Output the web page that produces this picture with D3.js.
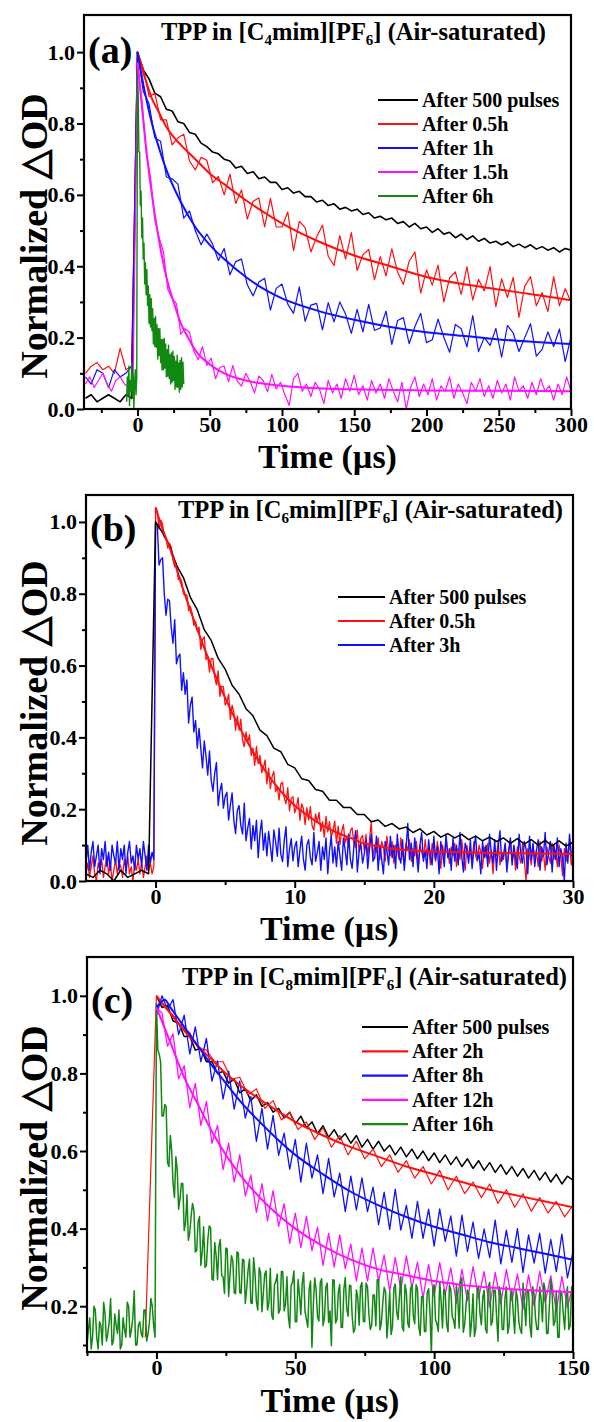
<!DOCTYPE html>
<html><head><meta charset="utf-8">
<script src="https://cdn.jsdelivr.net/npm/d3@7"></script>
<style>
body{margin:0;background:#fff}
svg text{font-family:"Liberation Serif","Times New Roman",serif;font-weight:bold;fill:#000}
</style>
</head><body>
<svg id="chart" width="594" height="1422"></svg>
<script>
// ---------------- DATA ----------------
// Panel (a): TPP in [C4mim][PF6]
const aLegend = ["After 500 pulses","After 0.5h","After 1h","After 1.5h","After 6h"];
const aXTicks = [0,50,100,150,200,250,300];
const aXMinor = [-25,25,75,125,175,225,275];
const aYTicks = [0,0.2,0.4,0.6,0.8,1.0];
const aYMinor = [0.1,0.3,0.5,0.7,0.9];

const aBlackT0 = -36, aBlackDt = 4;
const aBlackV = [0.03,0.04,0.02,0.03,0.04,0.03,0.02,0.04,0.03,
1.00,0.95,0.925,0.885,0.875,0.84,0.835,0.805,0.80,0.775,
0.77,0.745,0.735,0.72,0.715,0.70,0.695,0.675,0.68,0.66,
0.665,0.645,0.65,0.635,0.635,0.615,0.62,0.605,0.61,0.595,
0.595,0.58,0.585,0.57,0.575,0.56,0.565,0.555,0.56,0.545,
0.55,0.535,0.54,0.53,0.535,0.52,0.525,0.51,0.52,0.505,
0.51,0.495,0.505,0.49,0.495,0.48,0.49,0.475,0.485,0.47,
0.478,0.465,0.47,0.46,0.468,0.455,0.462,0.452,0.46,0.448,
0.455,0.445,0.452,0.44,0.45,0.445];

const aRedT0 = -36, aRedDt = 4;
const aRedV = [0.10,0.12,0.13,0.11,0.12,0.10,0.17,0.11,0.12,
1.00,0.955,0.875,0.885,0.81,0.81,0.74,0.76,0.77,0.695,
0.67,0.705,0.697,0.634,0.652,0.60,0.658,0.576,0.614,0.532,
0.582,0.591,0.51,0.59,0.51,0.51,0.552,0.444,0.526,0.508,
0.44,0.482,0.515,0.428,0.402,0.486,0.42,0.494,0.388,0.432,
0.447,0.362,0.427,0.373,0.449,0.384,0.349,0.414,0.44,0.325,
0.39,0.347,0.403,0.30,0.367,0.384,0.321,0.398,0.305,0.363,
0.331,0.399,0.287,0.365,0.312,0.369,0.257,0.344,0.371,0.289,
0.326,0.273,0.371,0.289,0.337,0.30];
const aRedFitT = [0,5,10,15,20,30,40,50,60,75,90,100,125,150,175,200,225,250,275,300];
const aRedFitV = [1.0,0.93,0.87,0.83,0.79,0.74,0.70,0.66,0.63,0.585,0.545,0.52,0.47,0.43,0.40,0.37,0.35,0.335,0.32,0.305];

const aBlueT0 = -36, aBlueDt = 4;
const aBlueV = [0.09,0.07,0.11,0.10,0.06,0.11,0.09,0.10,0.12,
1.00,0.89,0.855,0.76,0.75,0.65,0.645,0.63,0.535,0.555,
0.50,0.46,0.49,0.462,0.416,0.45,0.376,0.413,0.42,0.348,
0.317,0.356,0.366,0.277,0.338,0.35,0.294,0.268,0.342,0.246,
0.291,0.296,0.222,0.298,0.244,0.30,0.266,0.212,0.279,0.216,
0.293,0.22,0.227,0.274,0.181,0.248,0.256,0.183,0.231,0.268,
0.186,0.194,0.252,0.201,0.159,0.237,0.225,0.174,0.262,0.161,
0.20,0.178,0.226,0.145,0.234,0.213,0.161,0.20,0.239,0.148,
0.167,0.216,0.175,0.224,0.133,0.202];
const aBlueFitT = [0,5,10,15,20,30,40,50,60,75,90,100,125,150,175,200,225,250,275,300];
const aBlueFitV = [1.0,0.89,0.80,0.73,0.67,0.58,0.51,0.46,0.42,0.37,0.33,0.31,0.275,0.25,0.23,0.215,0.205,0.195,0.188,0.182];

const aMagT0 = -36, aMagDt = 3;
const aMagV = [0.07,0.09,0.06,0.08,0.10,0.07,0.05,0.08,0.09,0.07,0.06,0.08,
0.97,0.87,0.72,0.65,0.53,0.48,0.44,0.335,0.31,0.295,0.21,0.225,0.215,0.162,0.138,0.175,0.122,0.143,0.085,0.117,
0.12,0.076,0.122,0.078,0.064,0.10,0.077,0.045,0.092,0.08,0.048,0.097,0.056,0.075,
0.04,0.01,0.085,0.10,0.05,0.07,0.035,0.075,0.055,0.015,0.08,0.045,0.07,0.03,0.085,0.05,0.095,0.04,0.065,0.025,
0.08,0.045,0.07,0.03,0.085,0.05,0.02,0.075,0.0,0.06,0.09,0.035,0.07,0.04,0.085,0.025,0.065,0.05,0.09,0.03,
0.07,0.045,0.015,0.075,0.05,0.085,0.035,0.065,0.03,0.08,0.045,0.07,0.025,0.09,0.05,0.065,0.03,0.075,0.04,0.085,
0.05,0.065,0.025,0.07,0.04,0.09,0.05];
const aMagFitT = [0,3,6,10,15,20,25,30,35,40,50,60,75,100,125,150,200,250,300];
const aMagFitV = [0.97,0.85,0.73,0.60,0.47,0.37,0.30,0.24,0.20,0.165,0.125,0.10,0.08,0.065,0.058,0.055,0.052,0.051,0.05];

const aGreenT0 = -7.5, aGreenDt = 0.5;
const aGreenV = [0.02,0.09,0.04,0.12,0.01,0.08,0.05,0.13,0.03,0.10,0.0,0.07,0.11,0.04,0.09,
0.95,0.88,0.72,0.72,0.57,0.61,0.48,0.535,0.42,0.465,0.35,0.41,0.32,0.39,0.29,0.345,0.24,0.32,0.23,0.31,
0.22,0.281,0.182,0.254,0.175,0.259,0.173,0.236,0.14,0.225,0.15,0.225,0.13,0.195,0.11,0.195,0.11,0.198,0.115,0.182,
0.09,0.166,0.092,0.179,0.085,0.152,0.07,0.157,0.075,0.162,0.08,0.147,0.055,0.134,0.062,0.151,0.06,0.129,0.047,0.136,
0.055,0.144,0.062,0.131,0.07];

// Panel (b): TPP in [C6mim][PF6]
const bLegend = ["After 500 pulses","After 0.5h","After 3h"];
const bXTicks = [0,10,20,30];
const bXMinor = [5,15,25];
const bYTicks = [0,0.2,0.4,0.6,0.8,1.0];
const bYMinor = [0.1,0.3,0.5,0.7,0.9];

const bBlackT0 = -5, bBlackDt = 0.5;
const bBlackV = [0.02,0.01,0.03,0.02,0.0,0.03,0.01,0.02,0.03,0.02,
1.0,0.97,0.935,0.88,0.845,0.79,0.755,0.70,0.67,0.62,0.59,0.545,0.52,0.48,0.46,0.42,0.405,0.37,0.36,0.325,
0.315,0.285,0.28,0.255,0.25,0.225,0.225,0.205,0.205,0.185,0.185,0.165,0.17,0.152,0.16,0.145,0.15,0.135,0.145,0.128,
0.138,0.122,0.132,0.12,0.13,0.115,0.125,0.112,0.122,0.11,0.12,0.105,0.118,0.103,0.115,0.10,0.113,0.098,0.112,0.097,0.108];

const bRedT0 = -5, bRedDt = 0.125;
const bRedV = [
0.02,0.05,0.01,0.04,0.07,0.02,0.0,0.05,0.03,0.06,
0.01,0.04,0.07,0.02,0.05,0.0,0.03,0.06,0.02,0.05,
0.04,0.01,0.06,0.03,0.07,0.02,0.04,0.0,0.05,0.03,
0.06,0.02,0.05,0.01,0.04,0.07,0.03,0.05,0.02,0.04,
1.04,1.03,0.98,1.005,0.995,0.957,0.955,0.927,0.94,0.93,0.895,0.875,0.885,0.84,0.845,0.835,0.80,0.796,0.797,0.753,0.765,0.746,0.712,0.723,0.695,
0.707,0.645,0.672,0.68,0.617,0.625,0.582,0.62,0.619,0.567,0.546,0.585,0.514,0.542,0.541,0.49,0.50,0.52,0.45,0.49,
0.47,0.42,0.46,0.42,0.451,0.392,0.374,0.415,0.386,0.407,0.349,0.37,0.322,0.375,0.327,0.35,0.302,0.315,0.337,0.27,
0.314,0.257,0.291,0.305,0.249,0.262,0.226,0.27,0.275,0.23,0.215,0.26,0.195,0.23,0.235,0.19,0.206,0.232,0.169,0.215,
0.201,0.157,0.204,0.17,0.207,0.154,0.141,0.187,0.164,0.191,0.138,0.165,0.122,0.18,0.137,0.165,0.122,0.14,0.167,0.105,
0.153,0.101,0.139,0.157,0.106,0.124,0.092,0.14,0.148,0.106,0.094,0.142,0.081,0.119,0.127,0.085,
0.13,0.07,0.115,0.165,0.065,0.10,0.08,0.12,0.06,0.11,
0.095,0.055,0.125,0.085,0.07,0.11,0.05,0.10,0.09,0.06,
0.12,0.075,0.045,0.105,0.085,0.115,0.055,0.09,0.07,0.11,
0.04,0.10,0.08,0.06,0.115,0.07,0.095,0.045,0.105,0.085,
0.055,0.11,0.075,0.035,0.10,0.065,0.12,0.08,0.05,0.095,
0.07,0.105,0.04,0.09,0.06,0.115,0.075,0.03,0.1,0.065,
0.085,0.045,0.11,0.07,0.055,0.1,0.08,0.035,0.095,0.065,
0.105,0.05,0.085,0.02,0.09,0.07,0.11,0.045,0.08,0.06,
0.1,0.04,0.075,0.115,0.055,0.085,0.03,0.095,0.07,0.05,
0.105,0.06,0.0,0.09,0.075,0.045,0.1,0.065,0.085,0.04,
0.11,0.055,0.08,0.03,0.095,0.07,0.05,0.105,0.06,0.085,
0.04,0.1,0.07,0.015,0.09,0.055,0.08,0.105,0.045,0.075];
const bRedFitT = [0,0.5,1,2,3,4,5,6,7,8,9,10,11,12,13,14,15,16,17,18,20,22,25,30];
const bRedFitV = [1.04,0.98,0.93,0.81,0.70,0.60,0.51,0.43,0.36,0.30,0.25,0.21,0.18,0.155,0.135,0.12,0.105,0.097,0.09,0.086,0.082,0.08,0.078,0.075];

const bBlueT0 = -5, bBlueDt = 0.125;
const bBlueV = [
0.05,0.10,0.03,0.08,0.11,0.04,0.07,0.10,0.02,0.09,
0.06,0.11,0.04,0.08,0.03,0.10,0.07,0.05,0.11,0.03,
0.09,0.06,0.10,0.02,0.08,0.11,0.05,0.07,0.03,0.10,
0.06,0.09,0.04,0.11,0.07,0.03,0.10,0.05,0.08,0.06,
1.0,0.99,0.88,0.895,0.90,0.80,0.74,0.785,0.78,0.706,
0.662,0.728,0.605,0.624,0.632,0.531,0.58,0.52,0.56,0.44,
0.49,0.512,0.415,0.447,0.37,0.425,0.37,0.315,0.39,0.347,
0.295,0.362,0.28,0.25,0.30,0.33,0.21,0.251,0.272,0.203,
0.235,
0.247,0.17,0.212,0.245,0.169,0.132,0.196,0.21,0.155,0.131,
0.217,0.112,0.148,0.174,0.089,0.155,0.112,0.169,0.065,0.132,
0.169,0.086,0.133,0.07,0.138,0.096,0.054,0.142,0.11,0.069,
0.147,0.075,0.054,0.113,0.151,0.04,0.089,0.118,0.056,0.095,
0.11,0.04,0.085,0.125,0.06,0.03,0.10,0.115,0.065,0.045,
0.135,0.055,0.08,0.11,0.03,0.095,0.06,0.12,0.02,0.085,
0.125,0.05,0.095,0.04,0.11,0.07,0.03,0.12,0.085,0.045,
0.13,0.06,0.035,0.095,0.14,0.025,0.08,0.105,0.05,0.075,
0.115,0.035,0.09,0.13,0.055,0.065,0.125,0.03,0.10,0.06,
0.02,0.11,0.085,0.045,0.125,0.065,0.10,0.035,0.13,0.07,
0.05,0.115,0.03,0.09,0.16,0.06,0.105,0.04,0.12,0.075,
0.025,0.10,0.135,0.055,0.085,0.035,0.115,0.07,0.045,0.125,
0.06,0.095,0.02,0.11,0.08,0.04,0.13,0.065,0.09,0.03,
0.12,0.055,0.1,0.045,0.135,0.07,0.025,0.105,0.085,0.05,
0.115,0.035,0.09,0.125,0.06,0.075,0.02,0.11,0.065,0.1,
0.04,0.13,0.08,0.05,0.115,0.03,0.095,0.14,0.055,0.07,
0.105,0.025,0.085,0.12,0.045,0.1,0.065,0.035,0.13,0.075,
0.05,0.11,0.09,0.02,0.125,0.06,0.105,0.04,0.085,0.115,
0.03,0.095,0.07,0.135,0.045,0.08,0.11,0.025,0.1,0.06,
0.12,0.04,0.09,0.065,0.0,0.105,0.05,0.13,0.075,0.06];

// Panel (c): TPP in [C8mim][PF6]
const cLegend = ["After 500 pulses","After 2h","After 8h","After 12h","After 16h"];
const cXTicks = [0,50,100,150];
const cXMinor = [-25,25,75,125];
const cYTicks = [0.2,0.4,0.6,0.8,1.0];
const cYMinor = [0.1,0.3,0.5,0.7,0.9];

const cBlackT0 = 0, cBlackDt = 2;
const cBlackV = [1.0,0.97,0.975,0.935,0.93,0.895,0.895,0.86,0.865,0.83,0.83,0.80,0.805,0.775,0.785,0.75,0.76,0.73,0.745,0.715,
0.725,0.70,0.71,0.685,0.70,0.67,0.69,0.66,0.675,0.645,0.665,0.635,0.655,0.63,0.645,0.62,0.64,0.61,0.63,0.605,
0.625,0.60,0.615,0.59,0.61,0.585,0.605,0.58,0.60,0.575,0.595,0.57,0.59,0.565,0.585,0.56,0.58,0.555,0.575,0.55,
0.57,0.545,0.565,0.54,0.56,0.535,0.555,0.53,0.55,0.525,0.545,0.52,0.54,0.515,0.535,0.525];

const cRedPreT = [-4];
const cRedPreV = [0.12];
const cRedT0 = 0, cRedDt = 3;
const cRedV = [1.0,0.97,0.95,0.92,0.905,0.865,0.86,0.83,0.83,0.785,0.79,0.745,0.76,0.71,0.73,0.68,0.70,0.655,0.675,0.63,
0.66,0.61,0.64,0.59,0.625,0.58,0.605,0.56,0.59,0.545,0.575,0.53,0.56,0.515,0.55,0.50,0.535,0.49,0.52,0.48,
0.515,0.465,0.50,0.455,0.49,0.445,0.48,0.44,0.47,0.43,0.46];
const cRedFitT = [0,5,10,15,20,25,30,40,50,60,70,80,90,100,110,120,130,140,150];
const cRedFitV = [1.0,0.955,0.91,0.87,0.835,0.80,0.77,0.72,0.675,0.64,0.61,0.585,0.56,0.54,0.52,0.50,0.485,0.47,0.455];

const cBlueT0 = 0, cBlueDt = 2;
const cBlueV = [0.95,1.0,0.965,0.99,0.90,0.95,0.85,0.92,0.83,0.89,0.78,0.832,0.734,0.806,0.708,0.78,0.685,0.74,0.625,0.71,
0.605,0.692,0.589,0.646,0.553,0.63,0.52,0.62,0.53,0.59,0.49,0.581,0.482,0.543,0.444,0.535,0.448,0.531,0.444,0.507,
0.41,0.494,0.398,0.502,0.396,0.46,0.375,0.47,0.375,0.45,0.355,0.451,0.367,0.433,0.329,0.435,0.341,0.417,0.323,0.399,
0.325,0.422,0.309,0.396,0.313,0.40,0.287,0.384,0.311,0.388,0.285,0.372,0.289,0.386,0.273,0.34];
const cBlueFitT = [0,3,5,10,15,20,25,30,40,50,60,70,80,90,100,110,120,130,140,150];
const cBlueFitV = [0.97,0.99,0.97,0.92,0.87,0.82,0.775,0.73,0.655,0.59,0.54,0.495,0.46,0.43,0.405,0.385,0.365,0.35,0.335,0.32];

const cMagT0 = 0, cMagDt = 2;
const cMagV = [0.97,0.955,0.87,0.902,0.786,0.82,0.712,0.774,0.666,0.728,0.62,0.666,0.552,0.62,0.52,0.59,0.484,0.538,0.442,0.516,
0.42,0.498,0.406,0.464,0.362,0.44,0.351,0.432,0.343,0.404,0.305,0.388,0.301,0.384,0.297,0.36,0.265,0.35,0.265,0.35,
0.265,0.332,0.239,0.326,0.243,0.33,0.247,0.314,0.221,0.308,0.225,0.313,0.231,0.299,0.207,0.295,0.214,0.302,0.221,0.289,
0.198,0.287,0.206,0.295,0.214,0.283,0.192,0.281,0.201,0.29,0.209,0.279,0.188,0.277,0.197,0.256];
const cMagFitT = [0,5,10,15,20,25,30,40,50,60,70,80,90,100,110,120,130,140,150];
const cMagFitV = [0.97,0.88,0.79,0.72,0.65,0.59,0.54,0.46,0.40,0.355,0.32,0.295,0.28,0.265,0.255,0.248,0.243,0.239,0.236];

// green (c): samples on whole microseconds and on half microseconds
const cGreenT0 = -25, cGreenDt = 1;
const cGreenV = [0.10,0.17,0.12,0.19,0.09,0.15,0.21,0.11,0.16,0.10,0.18,0.13,0.09,0.17,0.12,0.20,0.14,0.24,0.10,0.16,0.12,0.19,0.13,0.22,0.15,
0.98,
0.85,0.69,0.72,0.57,0.64,0.515,0.585,0.45,0.517,0.395,0.487,0.39,0.465,0.34,0.417,0.305,0.405,0.305,0.407,0.27,
0.364,0.268,0.372,0.276,0.35,0.225,0.33,0.235,0.34,0.235,0.321,0.207,0.293,0.209,0.325,0.212,0.299,0.186,0.283,0.19,
0.298,0.166,0.264,0.182,0.29,0.188,0.276,0.144,0.262,0.16,0.269,0.178,0.287,0.166,0.245,0.094,0.273,0.172,0.261,0.15,
0.249,0.158,0.098,0.267,0.166,0.256,0.145,0.274,0.174,0.253,0.132,0.242,0.151,0.261,0.16,0.25,0.14,0.229,0.149,0.269,
0.158,0.248,0.118,0.237,0.147,0.257,0.166,0.276,0.136,0.236,0.145,0.255,0.155,0.245,0.125,0.225,0.135,0.245,0.075,0.255,
0.155,0.264,0.144,0.234,0.134,0.244,0.163,0.253,0.143,0.273,0.153,0.242,0.122,0.232,0.142,0.252,0.152,0.241,0.131,0.261,
0.161,0.241,0.11,0.23,0.14,0.25,0.15,0.24,0.13,0.22,0.14,0.26,0.15,0.24,0.12,0.23,0.14,0.25,0.16,0.24,
0.13,0.27,0.15,0.24,0.12,0.23,0.14,0.25,0.15,0.21];
const cGreenHalfT0 = -24.5, cGreenHalfDt = 1;
const cGreenHalfV = [0.14,0.09,0.20,0.12,0.16,0.10,0.18,0.13,0.22,0.11,0.15,0.19,0.10,0.14,0.21,0.12,0.17,0.10,0.15,0.13,0.19,0.11,0.16,0.20,0.12,
0.86,0.83,0.69,0.715,0.56,0.60,0.48,0.55,0.478,0.516,0.416,0.37,0.432,0.447,0.343,0.431,0.34,0.30,0.371,0.403,
0.267,0.331,0.355,0.279,0.233,0.347,0.282,0.317,0.232,0.337,0.233,0.319,0.245,0.321,0.207,0.284,0.19,0.287,0.234,0.291,
0.209,0.177,0.255,0.283,0.191,0.289,0.207,0.175,0.253,0.291,0.16,0.229,0.258,0.187,0.146,0.265,0.204,0.243,0.162,0.271,
0.17,0.259,0.188,0.268,0.157,0.236,0.146,0.245,0.194,0.254,0.173,0.142,0.222,0.251,0.161,0.26,0.18,0.15,0.229,0.269,
0.139,0.208,0.238,0.168,0.127,0.247,0.187,0.226,0.146,0.256,0.156,0.245,0.175,0.255,0.145,0.225,0.135,0.235,0.185,0.245,
0.165,0.135,0.214,0.244,0.154,0.254,0.174,0.143,0.223,0.263,0.133,0.203,0.232,0.162,0.122,0.242,0.182,0.222,0.141,0.251,
0.151,0.241,0.171,0.25,0.14,0.22,0.13,0.23,0.18,0.24,0.16,0.13,0.21,0.24,0.15,0.25,0.17,0.14,0.22,0.26,
0.13,0.20,0.23,0.16,0.12,0.24,0.18,0.22,0.14,0.25];

const COLORS = {black:"#000000", red:"#ff1010", blue:"#1010ff", magenta:"#ff10ff", green:"#118811"};

// ---------------- DRAWING ----------------
const svg = d3.select("#chart");
const grid = (t0, dt, v) => v.map((val, i) => [t0 + i*dt, val]);
const pairs = (t, v) => t.map((tt, i) => [tt, v[i]]);

function drawPanel(cfg) {
  const x = d3.scaleLinear().domain(cfg.xDomain).range([cfg.left, cfg.right]);
  const y = d3.scaleLinear().domain(cfg.yDomain).range([cfg.bottom, cfg.top]);
  const g = svg.append("g");
  const clipId = "clip-" + cfg.id;
  svg.append("defs").append("clipPath").attr("id", clipId)
    .append("rect").attr("x", cfg.left).attr("y", cfg.top)
    .attr("width", cfg.right - cfg.left).attr("height", cfg.bottom - cfg.top);
  const plot = g.append("g").attr("clip-path", `url(#${clipId})`);
  const line = d3.line().x(d => x(d[0])).y(d => y(d[1]));
  const smooth = d3.line().curve(d3.curveMonotoneX).x(d => x(d[0])).y(d => y(d[1]));
  cfg.series.forEach(s => {
    plot.append("path").attr("d", (s.fit ? smooth : line)(s.pts))
      .attr("fill", "none").attr("stroke", s.color)
      .attr("stroke-width", s.w || 1.2).attr("stroke-linejoin", "round");
  });

  // axes: minor (unlabelled) and major ticks
  g.append("g").attr("transform", `translate(0,${cfg.bottom})`)
    .call(d3.axisBottom(x).tickValues(cfg.xMinor).tickSize(4).tickFormat(""));
  g.append("g").attr("transform", `translate(0,${cfg.bottom})`)
    .call(d3.axisBottom(x).tickValues(cfg.xTicks).tickSize(7).tickPadding(0).tickFormat(d3.format("d")));
  g.append("g").attr("transform", `translate(${cfg.left},0)`)
    .call(d3.axisLeft(y).tickValues(cfg.yMinor).tickSize(4).tickFormat(""));
  g.append("g").attr("transform", `translate(${cfg.left},0)`)
    .call(d3.axisLeft(y).tickValues(cfg.yTicks).tickSize(7).tickPadding(2).tickFormat(d3.format(".1f")));
  g.selectAll(".domain").remove();
  g.selectAll(".tick line").attr("stroke", "#000").attr("stroke-width", 2);
  g.selectAll(".tick text").attr("font-size", 22).attr("font-family", "Liberation Serif")
    .attr("font-weight", "bold").attr("fill", "#000");

  g.append("rect").attr("x", cfg.left).attr("y", cfg.top)
    .attr("width", cfg.right - cfg.left).attr("height", cfg.bottom - cfg.top)
    .attr("fill", "none").attr("stroke", "#000").attr("stroke-width", 2.2);

  // panel label
  g.append("text").attr("x", cfg.left + 4).attr("y", cfg.labelY).attr("font-size", 38).text(cfg.label);
  // title with subscripts
  const t = g.append("text").attr("x", cfg.titleX).attr("y", cfg.titleY).attr("font-size", 24.5);
  t.append("tspan").text("TPP in [C");
  t.append("tspan").attr("font-size", 15).attr("dy", 5).text(cfg.sub);
  t.append("tspan").attr("dy", -5).text("mim][PF");
  t.append("tspan").attr("font-size", 15).attr("dy", 5).text("6");
  t.append("tspan").attr("dy", -5).text("] (Air-saturated)");

  // legend
  cfg.legend.forEach((lab, i) => {
    const yy = cfg.legY + i * cfg.legDy;
    g.append("line").attr("x1", cfg.legX1).attr("x2", cfg.legX2).attr("y1", yy).attr("y2", yy)
      .attr("stroke", cfg.legColors[i]).attr("stroke-width", 2.2);
    g.append("text").attr("x", cfg.legX2 + 4).attr("y", yy).attr("dy", "0.33em")
      .attr("font-size", 20).text(lab);
  });

  // axis titles
  g.append("text").attr("x", (cfg.left + cfg.right) / 2).attr("y", cfg.xTitleY)
    .attr("text-anchor", "middle").attr("font-size", 34).text("Time (\u00b5s)");
  g.append("text").attr("transform", `translate(${cfg.yTitleX},${cfg.yTitleMid}) rotate(-90)`)
    .attr("text-anchor", "middle").attr("font-size", 38).text("Normalized \u25b3OD");
}

drawPanel({
  id: "a", label: "(a)", sub: "4",
  left: 84, right: 571, top: 15, bottom: 409,
  xDomain: [-37, 300], yDomain: [0, 1.104],
  xTicks: aXTicks, xMinor: aXMinor, yTicks: aYTicks, yMinor: aYMinor,
  labelY: 63, titleX: 161, titleY: 40,
  legend: aLegend, legColors: [COLORS.black, COLORS.red, COLORS.blue, COLORS.magenta, COLORS.green],
  legX1: 378, legX2: 418, legY: 100, legDy: 24,
  xTitleY: 468, yTitleX: 47, yTitleMid: 236,
  series: [
    {pts: grid(aBlackT0, aBlackDt, aBlackV), color: COLORS.black, w: 1.6},
    {pts: grid(aRedT0, aRedDt, aRedV), color: COLORS.red},
    {pts: grid(aBlueT0, aBlueDt, aBlueV), color: COLORS.blue},
    {pts: grid(aMagT0, aMagDt, aMagV), color: COLORS.magenta},
    {pts: grid(aGreenT0, aGreenDt, aGreenV), color: COLORS.green, w: 1.4},
    {pts: pairs(aRedFitT, aRedFitV), color: COLORS.red, w: 2, fit: true},
    {pts: pairs(aBlueFitT, aBlueFitV), color: COLORS.blue, w: 2, fit: true},
    {pts: pairs(aMagFitT, aMagFitV), color: COLORS.magenta, w: 2, fit: true}
  ]
});

drawPanel({
  id: "b", label: "(b)", sub: "6",
  left: 86, right: 573, top: 495, bottom: 881,
  xDomain: [-5, 30], yDomain: [0, 1.075],
  xTicks: bXTicks, xMinor: bXMinor, yTicks: bYTicks, yMinor: bYMinor,
  labelY: 541, titleX: 178, titleY: 518,
  legend: bLegend, legColors: [COLORS.black, COLORS.red, COLORS.blue],
  legX1: 338, legX2: 385, legY: 597, legDy: 24,
  xTitleY: 940, yTitleX: 47, yTitleMid: 703,
  series: [
    {pts: grid(bRedT0, bRedDt, bRedV), color: COLORS.red, w: 1.3},
    {pts: grid(bBlueT0, bBlueDt, bBlueV), color: COLORS.blue, w: 1.4},
    {pts: grid(bBlackT0, bBlackDt, bBlackV), color: COLORS.black, w: 1.5},
    {pts: pairs(bRedFitT, bRedFitV), color: COLORS.red, w: 2, fit: true}
  ]
});

const cGreenPts = grid(cGreenT0, cGreenDt, cGreenV)
  .concat(grid(cGreenHalfT0, cGreenHalfDt, cGreenHalfV))
  .sort((p, q) => p[0] - q[0]);

drawPanel({
  id: "c", label: "(c)", sub: "8",
  left: 87, right: 573, top: 957, bottom: 1352,
  xDomain: [-25, 150], yDomain: [0.082, 1.1],
  xTicks: cXTicks, xMinor: cXMinor, yTicks: cYTicks, yMinor: cYMinor,
  labelY: 1013, titleX: 182, titleY: 985,
  legend: cLegend, legColors: [COLORS.black, COLORS.red, COLORS.blue, COLORS.magenta, COLORS.green],
  legX1: 362, legX2: 408, legY: 1027, legDy: 24.3,
  xTitleY: 1412, yTitleX: 47, yTitleMid: 1168,
  series: [
    {pts: grid(cBlackT0, cBlackDt, cBlackV), color: COLORS.black, w: 1.5},
    {pts: pairs(cRedPreT, cRedPreV).concat(grid(cRedT0, cRedDt, cRedV)), color: COLORS.red},
    {pts: grid(cBlueT0, cBlueDt, cBlueV), color: COLORS.blue, w: 1.3},
    {pts: grid(cMagT0, cMagDt, cMagV), color: COLORS.magenta, w: 1.3},
    {pts: cGreenPts, color: COLORS.green, w: 1.5},
    {pts: pairs(cRedFitT, cRedFitV), color: COLORS.red, w: 2, fit: true},
    {pts: pairs(cBlueFitT, cBlueFitV), color: COLORS.blue, w: 2, fit: true},
    {pts: pairs(cMagFitT, cMagFitV), color: COLORS.magenta, w: 2, fit: true}
  ]
});
</script>
</body></html>
